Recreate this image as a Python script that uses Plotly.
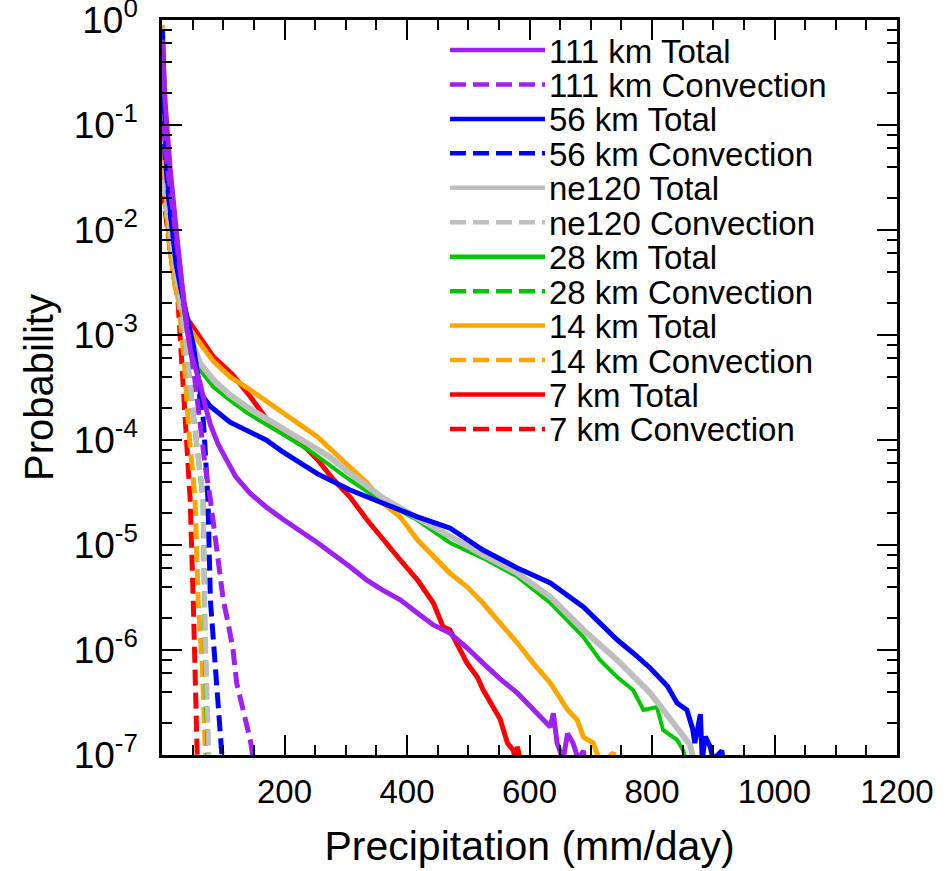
import plotly.graph_objects as go

# ---------------- data ----------------
x_111_tot = [0.5, 5, 13, 18, 25, 33, 41, 48, 62, 70, 79, 92, 106, 120, 144, 170, 198, 254, 307, 335,
             361, 389, 417, 443, 470, 498, 524, 552, 580, 606, 634, 639, 645, 655, 662, 671, 680, 688, 690]
p_111_tot = [0.65, 0.17, 0.04, 0.019, 8e-3, 2.9e-3, 1.1e-3, 6.5e-4, 3.5e-4, 2.2e-4, 1.4e-4, 9e-5, 6.5e-5,
             4.5e-5, 3.1e-5, 2.3e-5, 1.75e-5, 1.05e-5, 6.2e-6, 4.6e-6, 3.7e-6, 3.0e-6, 2.25e-6, 1.73e-6,
             1.45e-6, 1.05e-6, 7.5e-7, 5.3e-7, 3.9e-7, 2.7e-7, 1.85e-7, 2.5e-7, 1.3e-7, 9e-8, 1.6e-7,
             1.3e-7, 9e-8, 1.1e-7, 8e-8]

x_111_conv = [0.5, 5, 13, 25, 41, 52, 62, 70, 79, 90, 100, 108, 116, 122, 128, 136, 144, 149, 151]
p_111_conv = [0.1, 0.06, 0.025, 6.4e-3, 1.2e-3, 4.5e-4, 1.4e-4, 6e-5, 2.7e-5, 9e-6, 3.0e-6, 1.8e-6,
              1.0e-6, 4.8e-7, 3.3e-7, 2.2e-7, 1.4e-7, 1.0e-7, 8e-8]

x_56_tot = [0.5, 2, 3.6, 6.9, 11.8, 16.7, 23.2, 31.3, 41.1, 51, 62.4, 78.7, 111, 144, 170, 196, 254, 307,
            361, 417, 470, 524, 580, 634, 688, 715, 743, 769, 797, 825, 841, 857, 866, 870, 879, 882,
            887, 895, 900, 914, 917]
p_56_tot = [0.8, 0.42, 0.14, 0.0465, 0.0193, 0.01, 4.65e-3, 2.68e-3, 1.55e-3, 8.0e-4, 2.8e-4, 2.1e-4,
            1.48e-4, 1.17e-4, 1.0e-4, 7.8e-5, 4.75e-5, 3.34e-5, 2.51e-5, 1.85e-5, 1.45e-5, 8.96e-6,
            6.04e-6, 4.35e-6, 2.57e-6, 1.81e-6, 1.25e-6, 9.36e-7, 6.74e-7, 4.54e-7, 3.13e-7, 2.68e-7,
            1.8e-7, 1.3e-7, 2.45e-7, 9e-8, 1.5e-7, 1.2e-7, 9e-8, 1.1e-7, 8e-8]

x_56_conv = [0.5, 5, 13, 25, 33, 41, 50, 57, 62, 67, 70, 74, 75, 79, 83, 87, 92, 98, 99]
p_56_conv = [0.3, 0.05, 0.015, 4.5e-3, 2.5e-3, 1.2e-3, 7e-4, 5e-4, 2.4e-4, 1.66e-4, 9e-5, 3.9e-5,
             2.7e-5, 3.0e-6, 1.5e-6, 6.9e-7, 3e-7, 1.0e-7, 8e-8]

x_ne120_tot = [0.5, 3, 6, 10, 15, 22, 30, 38, 48, 62, 84, 111, 139, 165, 193, 221, 247, 274, 304, 361,
               417, 470, 524, 580, 634, 688, 743, 797, 841, 862, 868]
p_ne120_tot = [0.85, 0.15, 0.05, 0.02, 9e-3, 4.5e-3, 2.5e-3, 1.6e-3, 9e-4, 5.4e-4, 3.73e-4, 2.68e-4,
               2.06e-4, 1.66e-4, 1.33e-4, 1.07e-4, 8.58e-5, 6.89e-5, 4.95e-5, 2.8e-5, 1.81e-5, 1.19e-5,
               8.03e-6, 5.41e-6, 3.2e-6, 1.55e-6, 8.03e-7, 3.89e-7, 1.85e-7, 1.25e-7, 9e-8]

x_ne120_conv = [0.5, 5, 13.4, 26, 38, 50, 60, 67.3, 70.5, 75.4, 77]
p_ne120_conv = [0.03, 0.02, 8e-3, 3e-3, 9e-4, 2e-4, 6e-5, 2.7e-5, 1.45e-6, 1.2e-7, 8e-8]

x_28_tot = [0.5, 3, 6, 10, 15, 22, 30, 38, 48, 62, 84, 111, 139, 193, 247, 307, 361, 417, 470, 524,
            580, 634, 662, 688, 715, 743, 769, 786, 808, 818, 841, 851, 855]
p_28_tot = [0.85, 0.15, 0.05, 0.02, 9e-3, 4.4e-3, 2.4e-3, 1.5e-3, 8.5e-4, 4.64e-4, 3.2e-4, 2.4e-4,
            1.81e-4, 1.17e-4, 7.5e-5, 4.16e-5, 2.57e-5, 1.73e-5, 1.05e-5, 7.5e-6, 5.0e-6, 2.8e-6,
            1.93e-6, 1.33e-6, 8.03e-7, 5.53e-7, 4.16e-7, 2.68e-7, 2.86e-7, 1.73e-7, 1.39e-7, 1.1e-7, 9e-8]

x_28_conv = [0.5, 5, 13.4, 26, 38, 50, 60, 67, 70, 74, 75.5]
p_28_conv = [0.03, 0.02, 8e-3, 3e-3, 9e-4, 2e-4, 6e-5, 2.7e-5, 1.5e-6, 1.2e-7, 8e-8]

x_14_tot = [0.5, 3.6, 8.5, 13.4, 21.5, 33, 46, 84, 111, 144, 198, 254, 307, 335, 361, 389, 417, 443,
            470, 498, 524, 552, 580, 606, 634, 662, 678, 688, 704, 711, 715, 737, 740]
p_14_tot = [0.9, 0.04, 0.0133, 6.4e-3, 2.9e-3, 1.6e-3, 1.12e-3, 5.6e-4, 4.0e-4, 3.0e-4, 1.81e-4,
            1.07e-4, 5.5e-5, 3.9e-5, 2.5e-5, 1.85e-5, 1.12e-5, 7.7e-6, 5.4e-6, 4.0e-6, 2.8e-6, 1.8e-6,
            1.17e-6, 7.5e-7, 4.85e-7, 2.7e-7, 2.15e-7, 1.48e-7, 1.3e-7, 1.0e-7, 8e-8, 1.05e-7, 8e-8]

x_14_conv = [0.5, 5, 13.4, 26, 36, 44, 50, 54, 59, 66, 70.5, 72]
p_14_conv = [0.03, 0.018, 7e-3, 2.4e-3, 6e-4, 1.2e-4, 4e-5, 2.7e-5, 3e-6, 6.9e-7, 1.2e-7, 8e-8]

x_7_tot = [0.5, 3.6, 8.5, 13.4, 21.5, 33, 46, 84, 115, 144, 172, 198, 226, 254, 280, 307, 335, 361,
           389, 417, 443, 459, 470, 498, 515, 524, 552, 564, 574, 577, 580, 585]
p_7_tot = [0.85, 0.035, 0.013, 6.4e-3, 3.0e-3, 1.7e-3, 1.3e-3, 6.2e-4, 4.2e-4, 2.6e-4, 1.55e-4,
           1.17e-4, 9.4e-5, 6.5e-5, 4.2e-5, 2.86e-5, 1.73e-5, 1.12e-5, 7.2e-6, 4.65e-6, 2.8e-6,
           1.66e-6, 1.55e-6, 7.5e-7, 5.5e-7, 4.2e-7, 2.2e-7, 1.3e-7, 1.1e-7, 8e-8, 1.2e-7, 9e-8]

x_7_conv = [0.5, 5, 13.4, 26, 33, 41, 46, 51, 54, 57.5, 58.5]
p_7_conv = [0.025, 0.015, 6.4e-3, 2.15e-3, 5e-4, 8e-5, 2.7e-5, 3e-6, 3.3e-7, 1e-7, 8e-8]

legend_labels = ["111 km Total", "111 km Convection", "56 km Total", "56 km Convection",
                 "ne120 Total", "ne120 Convection", "28 km Total", "28 km Convection",
                 "14 km Total", "14 km Convection", "7 km Total", "7 km Convection"]

x_tickvals = [200, 400, 600, 800, 1000, 1200]
x_ticktext = ["200", "400", "600", "800", "1000", "1200"]
y_exponents = [0, -1, -2, -3, -4, -5, -6, -7]

# ---------------- styles ----------------
PURPLE, BLUE, GRAY, GREEN, ORANGE, RED = "#A020F0", "#0000FF", "#BEBEBE", "#00C800", "#FFA500", "#FF0000"
DASH = "16px,7px"

series = [  # (label, x, y, color, dash, width)
    ("111 km Total", x_111_tot, p_111_tot, PURPLE, "solid", 5),
    ("111 km Convection", x_111_conv, p_111_conv, PURPLE, DASH, 5),
    ("56 km Total", x_56_tot, p_56_tot, BLUE, "solid", 5),
    ("56 km Convection", x_56_conv, p_56_conv, BLUE, DASH, 5),
    ("ne120 Total", x_ne120_tot, p_ne120_tot, GRAY, "solid", 6),
    ("ne120 Convection", x_ne120_conv, p_ne120_conv, GRAY, DASH, 5),
    ("28 km Total", x_28_tot, p_28_tot, GREEN, "solid", 4),
    ("28 km Convection", x_28_conv, p_28_conv, GREEN, DASH, 5),
    ("14 km Total", x_14_tot, p_14_tot, ORANGE, "solid", 5),
    ("14 km Convection", x_14_conv, p_14_conv, ORANGE, DASH, 5),
    ("7 km Total", x_7_tot, p_7_tot, RED, "solid", 5),
    ("7 km Convection", x_7_conv, p_7_conv, RED, DASH, 5),
]

FONT = "Liberation Sans, Arial, Helvetica, sans-serif"
fig = go.Figure()

# draw in reverse legend order (7 km first, 111 km on top)
draw_order = [10, 11, 8, 9, 6, 7, 4, 5, 2, 3, 0, 1]
for i in draw_order:
    name, xs, ys, col, dash, w = series[i]
    fig.add_trace(go.Scatter(x=xs, y=ys, mode="lines", name=name, showlegend=False,
                             line=dict(color=col, width=w, dash=dash)))

# plot area in page pixels (body margin removed below)
L = 162
W = 735.0
T = 20
H = 735.0
def px_x(p):
    return (p - L) / W
def px_y(p):
    return 1 - (p - T) / H

for k, (name, xs, ys, col, dash, w) in enumerate(series):
    yy = 50 + k * 34.45
    fig.add_shape(type="line", xref="paper", yref="paper",
                  x0=px_x(450), x1=px_x(545), y0=px_y(yy), y1=px_y(yy),
                  line=dict(color=col, width=4.5, dash=dash))
    fig.add_annotation(xref="paper", yref="paper", x=px_x(547), y=px_y(yy + 1),
                       xanchor="left", yanchor="middle", showarrow=False,
                       text=legend_labels[k], font=dict(family=FONT, size=33, color="black"))

y_tickvals = [10.0 ** e for e in y_exponents]
y_ticktext = ["10<sup>%d</sup>" % e for e in y_exponents]
y_minor = [m * 10.0 ** e for e in range(-7, 0) for m in (2, 4, 6, 8)]
x_minor = [v for v in range(50, 1200, 50) if v % 200 != 0]

axis_common = dict(showline=True, linecolor="black", linewidth=2.5, mirror="allticks",
                   ticks="inside", ticklen=20, tickwidth=2, tickcolor="black",
                   showgrid=False, zeroline=False, ticklabeloverflow="allow")

fig.update_xaxes(range=[0, 1200], tickmode="array", tickvals=x_tickvals, ticktext=x_ticktext,
                 minor=dict(tickmode="array", tickvals=x_minor, ticks="inside", ticklen=10,
                            tickwidth=1.5, tickcolor="black", showgrid=False),
                 ticklabelstandoff=6,
                 tickfont=dict(family=FONT, size=33, color="black"),
                 title=dict(text="Precipitation (mm/day)", font=dict(family=FONT, size=41, color="black"),
                            standoff=22),
                 **axis_common)
fig.update_yaxes(type="log", range=[-7.0003, 0.0003], tickmode="array", tickvals=y_tickvals,
                 ticktext=y_ticktext,
                 minor=dict(tickmode="array", tickvals=y_minor, ticks="inside", ticklen=10,
                            tickwidth=1.5, tickcolor="black", showgrid=False),
                 ticklabelstandoff=14,
                 tickfont=dict(family=FONT, size=37, color="black"),
                 title=dict(text="Probability", font=dict(family=FONT, size=40, color="black"),
                            standoff=8),
                 **axis_common)

fig.update_layout(width=951, height=871,
                  margin=dict(l=L, r=951 - L - 735, t=T, b=871 - T - 735, autoexpand=False),
                  paper_bgcolor="white", plot_bgcolor="white", showlegend=False)

fig.write_html("out.html", config={"displayModeBar": False},
               post_script="document.body.style.margin='0px';")
